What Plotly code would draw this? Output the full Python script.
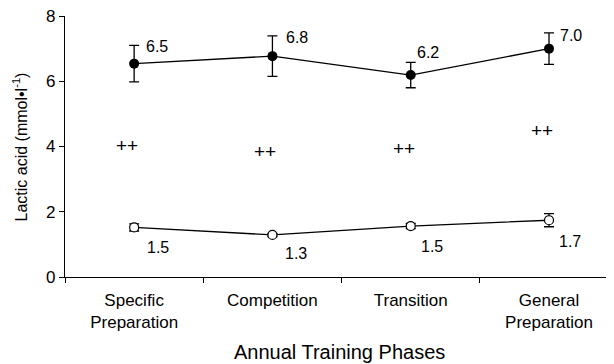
import plotly.graph_objects as go

# ---- data ----
categories = ["Specific<br>Preparation", "Competition", "Transition", "General<br>Preparation"]
filled_mean = [6.54, 6.77, 6.19, 7.00]
filled_err = [0.56, 0.62, 0.39, 0.48]
open_mean = [1.52, 1.29, 1.56, 1.74]
open_err = [0.11, 0.05, 0.08, 0.20]
filled_labels = ["6.5", "6.8", "6.2", "7.0"]
open_labels = ["1.5", "1.3", "1.5", "1.7"]
sig_marks = ["++", "++", "++", "++"]
sig_y = [4.02, 3.86, 3.95, 4.50]

# label placement (style)
filled_label_y = [7.08, 7.34, 6.87, 7.41]
filled_label_dx = [23, 25, 17, 22]
open_label_y = [0.91, 0.73, 0.92, 1.10]
open_label_dx = [24, 24, 21, 21]

FONT = "Liberation Sans, Arial, sans-serif"
x_idx = list(range(len(categories)))

fig = go.Figure()
fig.add_trace(go.Scatter(
    x=categories, y=filled_mean, mode="lines+markers",
    line=dict(color="black", width=1.3),
    marker=dict(symbol="circle", size=10, color="black"),
    error_y=dict(type="data", array=filled_err, visible=True, color="black", thickness=1.3, width=5),
    showlegend=False, cliponaxis=False,
))
fig.add_trace(go.Scatter(
    x=categories, y=open_mean, mode="lines+markers",
    line=dict(color="black", width=1.3),
    marker=dict(symbol="circle", size=9, color="white", line=dict(color="black", width=1.2)),
    error_y=dict(type="data", array=open_err, visible=True, color="black", thickness=1.3, width=5),
    showlegend=False, cliponaxis=False,
))

annotations = []
for i in x_idx:
    annotations.append(dict(x=i, y=filled_label_y[i], xref="x", yref="y", text=filled_labels[i],
                            showarrow=False, xshift=filled_label_dx[i],
                            font=dict(family=FONT, size=16, color="black")))
    annotations.append(dict(x=i, y=open_label_y[i], xref="x", yref="y", text=open_labels[i],
                            showarrow=False, xshift=open_label_dx[i],
                            font=dict(family=FONT, size=16, color="black")))
    annotations.append(dict(x=i, y=sig_y[i], xref="x", yref="y", text=sig_marks[i],
                            showarrow=False, xshift=-7,
                            font=dict(family=FONT, size=19, color="black")))

annotations.append(dict(x=-0.082, y=0.5, xref="paper", yref="paper", textangle=-90,
                        text="Lactic acid (mmol•l<sup>-1</sup>)", showarrow=False,
                        xanchor="center", yanchor="middle",
                        font=dict(family=FONT, size=16, color="black")))
annotations.append(dict(x=0.5, y=-0.286, xref="paper", yref="paper",
                        text="Annual Training Phases", showarrow=False,
                        xanchor="center", yanchor="middle",
                        font=dict(family=FONT, size=20, color="black")))

fig.update_layout(
    width=606, height=356,
    margin=dict(l=57, r=0, t=8, b=87),
    paper_bgcolor="white", plot_bgcolor="white",
    font=dict(family=FONT, size=17, color="black"),
    annotations=annotations,
)
fig.update_xaxes(
    type="category", range=[-0.5, 3.47], tickson="boundaries",
    showline=True, linecolor="black", linewidth=1.2,
    ticks="outside", ticklen=5, tickcolor="black", tickwidth=1.2,
    ticklabelstandoff=7, ticklabeloverflow="allow",
    showgrid=False, zeroline=False, tickfont=dict(family=FONT, size=17, color="black"),
)
fig.update_yaxes(
    range=[0, 8], tickvals=[0, 2, 4, 6, 8],
    showline=True, linecolor="black", linewidth=1.2,
    ticks="outside", ticklen=5, tickcolor="black", tickwidth=1.2,
    ticklabeloverflow="allow",
    showgrid=False, zeroline=False, tickfont=dict(family=FONT, size=17, color="black"),
)

fig.write_html("out.html")
